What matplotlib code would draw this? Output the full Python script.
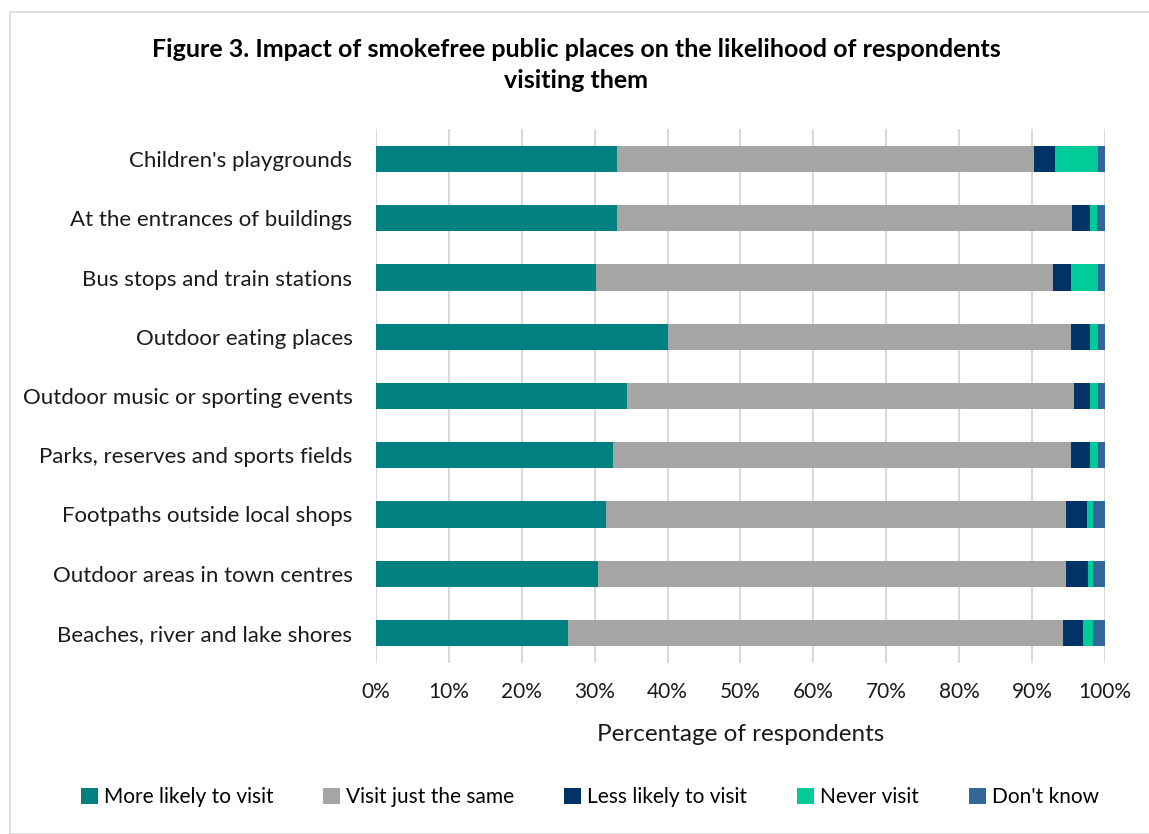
import matplotlib
matplotlib.use("Agg")
import matplotlib.pyplot as plt
from matplotlib.patches import Rectangle
from matplotlib.ticker import FuncFormatter, MultipleLocator

plt.rcParams['font.family'] = ['Lato', 'DejaVu Sans']

categories = ["Children's playgrounds", "At the entrances of buildings",
              "Bus stops and train stations", "Outdoor eating places",
              "Outdoor music or sporting events", "Parks, reserves and sports fields",
              "Footpaths outside local shops", "Outdoor areas in town centres",
              "Beaches, river and lake shores"]
more_likely = [33.1, 33.1, 30.2, 40.1, 34.4, 32.5, 31.5, 30.5, 26.4]
just_same = [57.1, 62.4, 62.7, 55.2, 61.3, 62.9, 63.2, 64.2, 67.8]
less_likely = [2.9, 2.5, 2.5, 2.6, 2.3, 2.6, 2.8, 3.0, 2.8]
never_visit = [6.0, 0.9, 3.7, 1.2, 1.1, 1.1, 0.9, 0.7, 1.4]
dont_know = [0.9, 1.1, 0.9, 0.9, 0.9, 0.9, 1.6, 1.6, 1.6]

series = [("More likely to visit", more_likely, "#008080"),
          ("Visit just the same", just_same, "#A5A5A5"),
          ("Less likely to visit", less_likely, "#003366"),
          ("Never visit", never_visit, "#00CC99"),
          ("Don't know", dont_know, "#336699")]

fig = plt.figure(figsize=(11.49, 8.34), dpi=100)
ax = fig.add_axes([376/1149, 1-662.6/834, (1105-376)/1149, (662.6-129.4)/834])

n = len(categories)
ypos = list(range(n))[::-1]
left = [0.0]*n
for name, vals, col in series:
    ax.barh(ypos, vals, left=left, height=0.44, color=col, label=name, zorder=3)
    left = [l+v for l, v in zip(left, vals)]

ax.set_xlim(0, 100)
ax.set_ylim(-0.5, n-0.5)
ax.set_yticks(ypos)
ax.set_yticklabels(categories, fontsize=16, color='#1a1a1a')
ax.xaxis.set_major_locator(MultipleLocator(10))
ax.xaxis.set_major_formatter(FuncFormatter(lambda v, p: f"{int(round(v))}%"))
ax.tick_params(axis='x', labelsize=15, length=0, pad=14, colors='#1a1a1a')
ax.tick_params(axis='y', length=0, pad=17)
ax.grid(axis='x', color='#D9D9D9', linewidth=1.5, zorder=0)
for s in ax.spines.values():
    s.set_visible(False)
ax.set_xlabel("Percentage of respondents", fontsize=17.5, color='#1a1a1a', labelpad=16)

fig.text(576/1149, 1-65/834, "Figure 3. Impact of smokefree public places on the likelihood of respondents\nvisiting them",
         ha='center', va='center', fontsize=18, fontweight='bold', linespacing=1.45, color='black')

handles, labels = ax.get_legend_handles_labels()
fig.legend(handles, labels, loc='center', bbox_to_anchor=(590/1149, 1-797/834), ncol=5,
           frameon=False, fontsize=15, handlelength=0.8, handleheight=0.8,
           handletextpad=0.3, columnspacing=2.4)

fig.patches.append(Rectangle((10/1149, 0), 1.2, 1-12/834, transform=fig.transFigure,
                             fill=False, edgecolor='#D9D9D9', linewidth=1.2))

fig.savefig("out.png", dpi=100, facecolor='white')
